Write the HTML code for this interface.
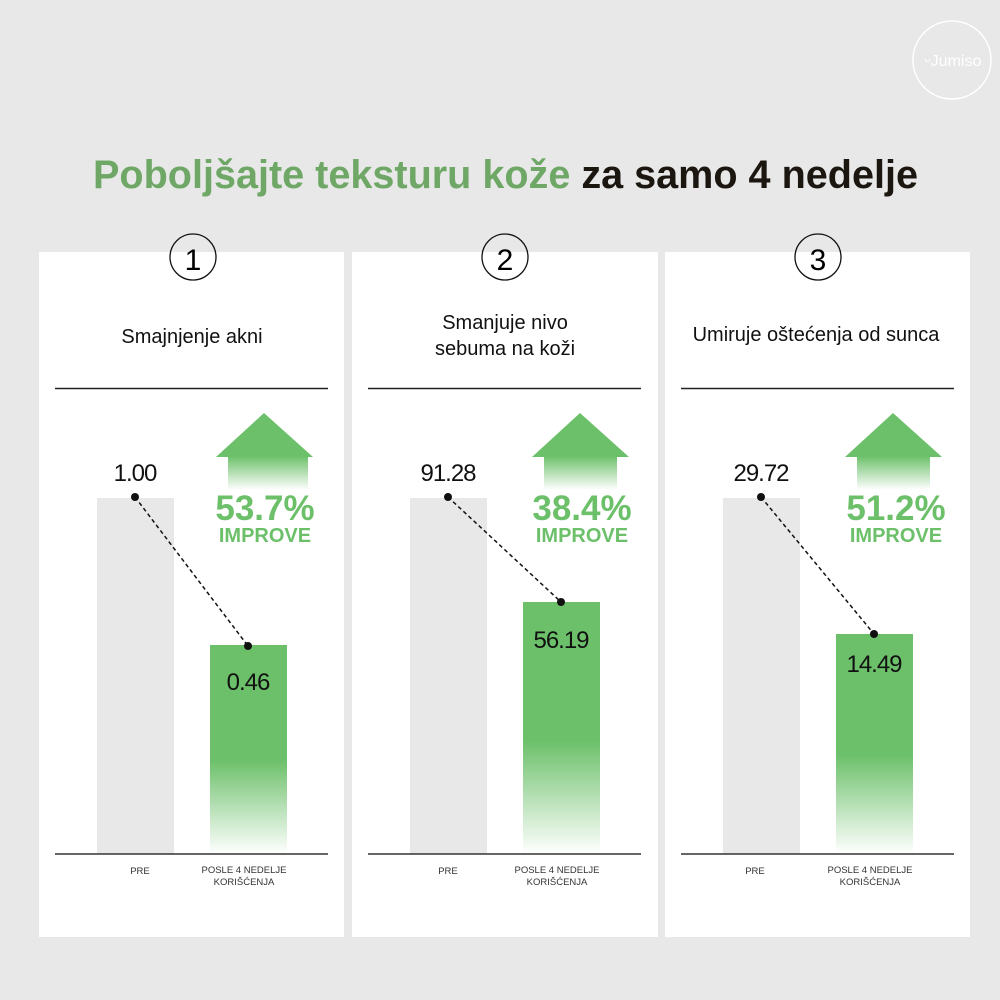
<!DOCTYPE html>
<html><head><meta charset="utf-8"><style>
html,body{margin:0;padding:0;background:#e8e8e8;}
svg{display:block;}
</style></head><body>
<svg width="1000" height="1000" viewBox="0 0 1000 1000" xmlns="http://www.w3.org/2000/svg" font-family="Liberation Sans, sans-serif">
<defs>
<linearGradient id="gb" x1="0" y1="0" x2="0" y2="1">
<stop offset="0" stop-color="#6cc06a"/><stop offset="0.55" stop-color="#6cc06a"/><stop offset="1" stop-color="#6cc06a" stop-opacity="0"/>
</linearGradient>
<linearGradient id="ga" x1="0" y1="0" x2="0" y2="1">
<stop offset="0" stop-color="#6cc06a"/><stop offset="1" stop-color="#6cc06a" stop-opacity="0"/>
</linearGradient>
</defs>
<rect width="1000" height="1000" fill="#e8e8e8"/>
<circle cx="952" cy="60" r="39" fill="none" stroke="#fff" stroke-width="1.5"/>
<text x="953" y="66" text-anchor="middle" font-size="16" fill="#fff">ᵕJumiso</text>
<text x="93" y="188" font-size="40" font-weight="bold" textLength="825" lengthAdjust="spacingAndGlyphs"><tspan fill="#6fa866">Poboljšajte teksturu kože</tspan><tspan fill="#1c1610"> za samo 4 nedelje</tspan></text>

<g id="p1">
<rect x="39" y="252" width="305" height="685" fill="#fff"/>
<circle cx="193" cy="257" r="23" fill="none" stroke="#111" stroke-width="1.3"/>
<text x="193" y="270" text-anchor="middle" font-size="30">1</text>
<text x="192" y="343" text-anchor="middle" font-size="20" fill="#111">Smajnjenje akni</text>
<line x1="55" y1="388.5" x2="328" y2="388.5" stroke="#222" stroke-width="1.5"/>
<rect x="97" y="498" width="77" height="356" fill="#e8e8e8"/>
<rect x="210" y="645" width="77" height="209" fill="url(#gb)"/>
<path d="M264 413 L313 457 L216 457 Z" fill="#6cc06a"/>
<rect x="228" y="456" width="80" height="34" fill="url(#ga)"/>
<text x="265" y="520" text-anchor="middle" font-size="35" font-weight="bold" fill="#6cc06a">53.7%</text>
<text x="265" y="542" text-anchor="middle" font-size="20" font-weight="bold" fill="#6cc06a">IMPROVE</text>
<text x="135" y="481" text-anchor="middle" font-size="24" fill="#111" letter-spacing="-1">1.00</text>
<line x1="135" y1="497" x2="248" y2="646" stroke="#111" stroke-width="1.5" stroke-dasharray="4,3"/>
<circle cx="135" cy="497" r="4" fill="#111"/><circle cx="248" cy="646" r="4" fill="#111"/>
<text x="248" y="690" text-anchor="middle" font-size="24" fill="#111" letter-spacing="-1">0.46</text>
<line x1="55" y1="854" x2="328" y2="854" stroke="#333" stroke-width="1.5"/>
<text x="140" y="874" text-anchor="middle" font-size="9.5" fill="#333">PRE</text>
<text x="244" y="873" text-anchor="middle" font-size="9.5" fill="#333">POSLE 4 NEDELJE</text>
<text x="244" y="885" text-anchor="middle" font-size="9.5" fill="#333">KORIŠĆENJA</text>
</g>

<g>
<rect x="352" y="252" width="306" height="685" fill="#fff"/>
<circle cx="505" cy="257" r="23" fill="none" stroke="#111" stroke-width="1.3"/>
<text x="505" y="270" text-anchor="middle" font-size="30">2</text>
<text x="505" y="329" text-anchor="middle" font-size="20" fill="#111">Smanjuje nivo</text>
<text x="505" y="355" text-anchor="middle" font-size="20" fill="#111">sebuma na koži</text>
<line x1="368" y1="388.5" x2="641" y2="388.5" stroke="#222" stroke-width="1.5"/>
<rect x="410" y="498" width="77" height="356" fill="#e8e8e8"/>
<rect x="523" y="602" width="77" height="252" fill="url(#gb)"/>
<path d="M580 413 L629 457 L532 457 Z" fill="#6cc06a"/>
<rect x="544" y="456" width="73" height="34" fill="url(#ga)"/>
<text x="582" y="520" text-anchor="middle" font-size="35" font-weight="bold" fill="#6cc06a">38.4%</text>
<text x="582" y="542" text-anchor="middle" font-size="20" font-weight="bold" fill="#6cc06a">IMPROVE</text>
<text x="448" y="481" text-anchor="middle" font-size="24" fill="#111" letter-spacing="-1">91.28</text>
<line x1="448" y1="497" x2="561" y2="602" stroke="#111" stroke-width="1.5" stroke-dasharray="4,3"/>
<circle cx="448" cy="497" r="4" fill="#111"/><circle cx="561" cy="602" r="4" fill="#111"/>
<text x="561" y="648" text-anchor="middle" font-size="24" fill="#111" letter-spacing="-1">56.19</text>
<line x1="368" y1="854" x2="641" y2="854" stroke="#333" stroke-width="1.5"/>
<text x="448" y="874" text-anchor="middle" font-size="9.5" fill="#333">PRE</text>
<text x="557" y="873" text-anchor="middle" font-size="9.5" fill="#333">POSLE 4 NEDELJE</text>
<text x="557" y="885" text-anchor="middle" font-size="9.5" fill="#333">KORIŠĆENJA</text>
</g>

<g>
<rect x="665" y="252" width="305" height="685" fill="#fff"/>
<circle cx="818" cy="257" r="23" fill="none" stroke="#111" stroke-width="1.3"/>
<text x="818" y="270" text-anchor="middle" font-size="30">3</text>
<text x="816" y="341" text-anchor="middle" font-size="20" fill="#111">Umiruje oštećenja od sunca</text>
<line x1="681" y1="388.5" x2="954" y2="388.5" stroke="#222" stroke-width="1.5"/>
<rect x="723" y="498" width="77" height="356" fill="#e8e8e8"/>
<rect x="836" y="634" width="77" height="220" fill="url(#gb)"/>
<path d="M893 413 L942 457 L845 457 Z" fill="#6cc06a"/>
<rect x="857" y="456" width="73" height="34" fill="url(#ga)"/>
<text x="896" y="520" text-anchor="middle" font-size="35" font-weight="bold" fill="#6cc06a">51.2%</text>
<text x="896" y="542" text-anchor="middle" font-size="20" font-weight="bold" fill="#6cc06a">IMPROVE</text>
<text x="761" y="481" text-anchor="middle" font-size="24" fill="#111" letter-spacing="-1">29.72</text>
<line x1="761" y1="497" x2="874" y2="634" stroke="#111" stroke-width="1.5" stroke-dasharray="4,3"/>
<circle cx="761" cy="497" r="4" fill="#111"/><circle cx="874" cy="634" r="4" fill="#111"/>
<text x="874" y="672" text-anchor="middle" font-size="24" fill="#111" letter-spacing="-1">14.49</text>
<line x1="681" y1="854" x2="954" y2="854" stroke="#333" stroke-width="1.5"/>
<text x="755" y="874" text-anchor="middle" font-size="9.5" fill="#333">PRE</text>
<text x="870" y="873" text-anchor="middle" font-size="9.5" fill="#333">POSLE 4 NEDELJE</text>
<text x="870" y="885" text-anchor="middle" font-size="9.5" fill="#333">KORIŠĆENJA</text>
</g>
</svg>
</body></html>
